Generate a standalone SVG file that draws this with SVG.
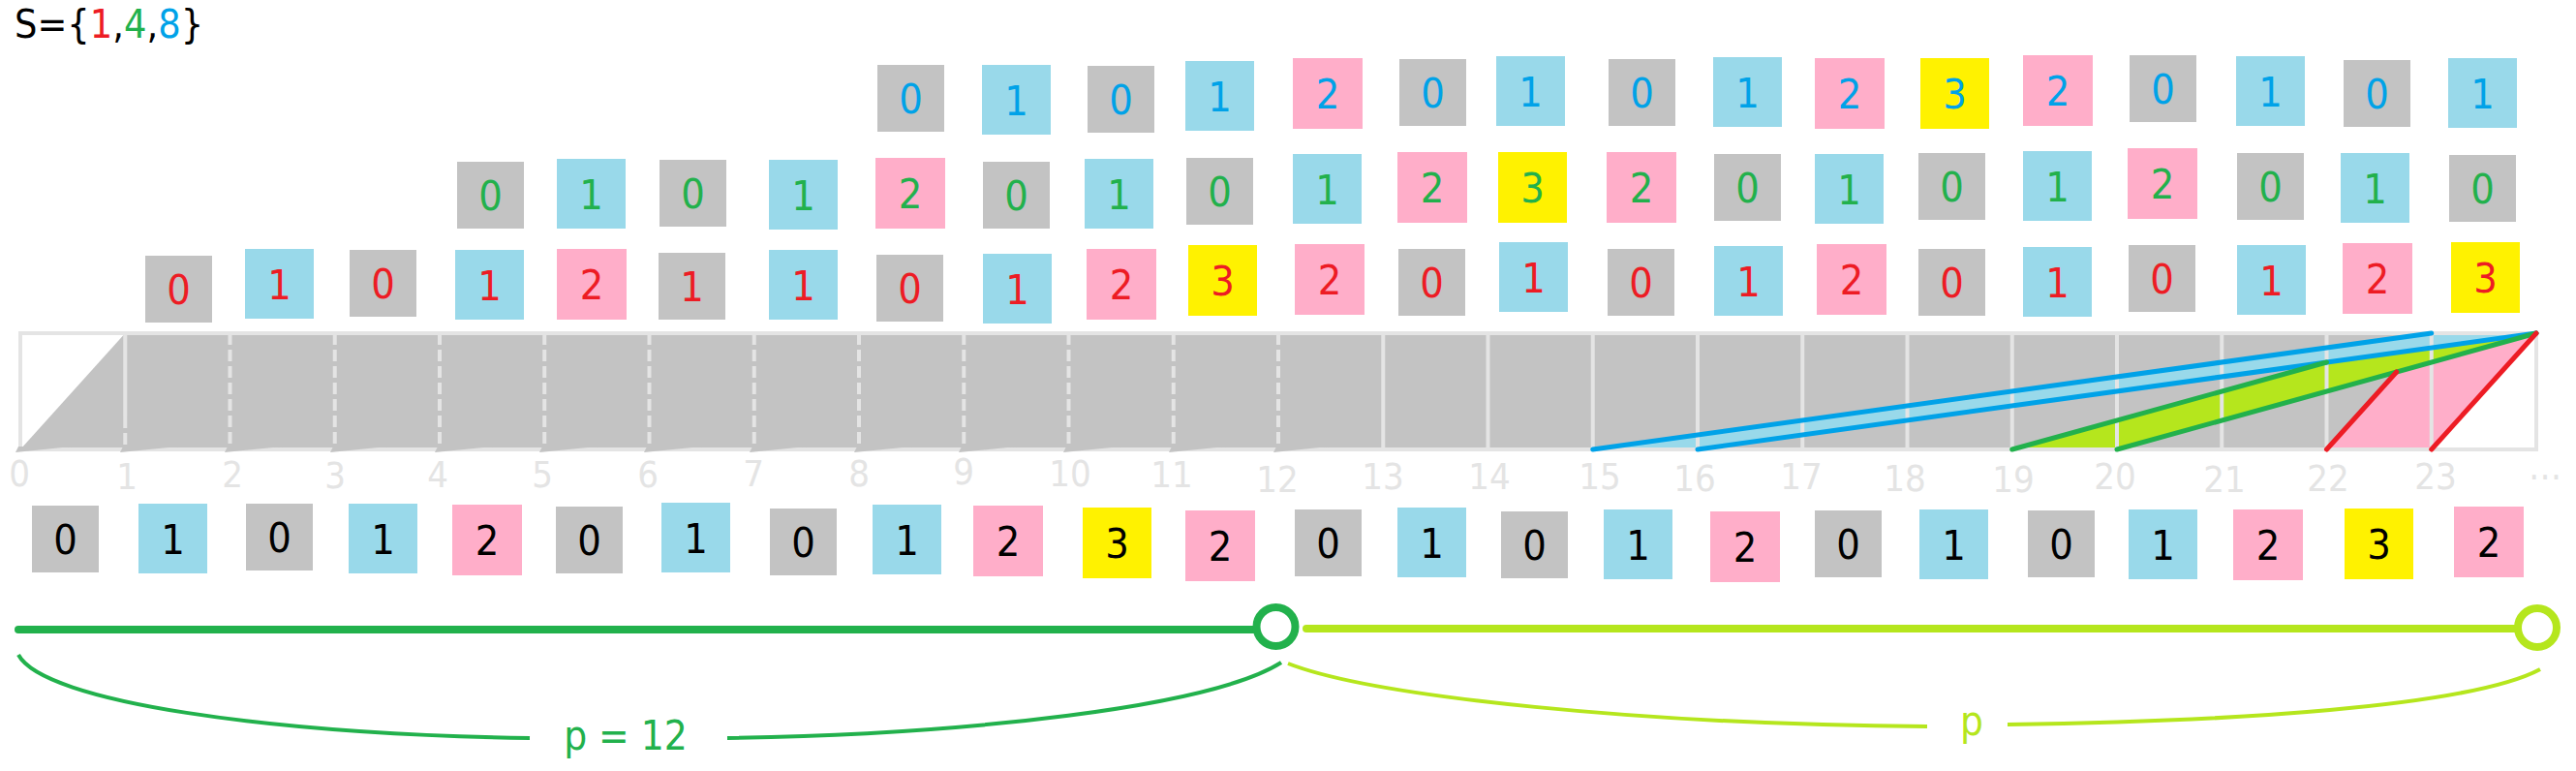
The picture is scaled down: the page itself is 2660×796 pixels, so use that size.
<svg xmlns="http://www.w3.org/2000/svg" width="2660" height="796" viewBox="0 0 2660 796">
<style>
text{font-family:"DejaVu Sans Condensed","DejaVu Sans","Liberation Sans",sans-serif}
.g{fill:#c3c3c3}.b{fill:#99d9ea}.p{fill:#ffaec9}.y{fill:#fff200}
.n text{font-size:43px;text-anchor:middle}
.tA text{fill:#00a2e8}.tB text{fill:#22b14c}.tC text{fill:#ed1c24}.tD text{fill:#000}
.grid{stroke:#e4e4e4;stroke-width:4;fill:none}
.dash{stroke-dasharray:12 5}
.lbl{font-size:38px;fill:#e4e4e4;text-anchor:middle}
.ln{stroke-width:5;stroke-linecap:round;fill:none}
</style>
<text x="15" y="39" font-size="41" fill="#000">S={<tspan fill="#ed1c24">1</tspan>,<tspan fill="#22b14c">4</tspan>,<tspan fill="#00a2e8">8</tspan>}</text>

<g id="ramp-fills">
<polygon class="g" points="21,464 129.25,344 2619,344 2510.75,464"/>
<polygon class="p" points="2402.5,464 2510.75,464 2619,344 2510.75,344"/>
<polygon fill="#b5e61d" points="2077.75,464 2186,464 2619,344 2510.75,344"/>
<polygon class="b" points="1644.75,464 1753,464 2619,344 2510.75,344"/>
</g>

<g id="grid">
<rect class="grid" x="21" y="344" width="2598" height="120"/>
<path class="grid" d="M129.25,344V430"/>
<path class="grid dash" d="M129.25,430V464"/>
<path class="grid dash" d="M237.5,344V464M345.75,344V464M454,344V464M562.25,344V464M670.5,344V464M778.75,344V464M887,344V464M995.25,344V464M1103.5,344V464M1211.75,344V464M1320,344V464"/>
<path class="grid" d="M1428.25,344V464M1536.5,344V464M1644.75,344V464M1753,344V464M1861.25,344V464M1969.5,344V464M2077.75,344V464M2186,344V464M2294.25,344V464M2402.5,344V464M2510.75,344V464"/>
<g class="g">
<polygon points="16,467 19,461 74,461"/>
<polygon points="124,467 127,461 184,461"/>
<polygon points="232,467 235,461 292,461"/>
<polygon points="341,467 344,461 400,461"/>
<polygon points="449,467 452,461 509,461"/>
<polygon points="557,467 560,461 617,461"/>
<polygon points="665,467 668,461 725,461"/>
<polygon points="774,467 777,461 833,461"/>
<polygon points="882,467 885,461 942,461"/>
<polygon points="990,467 993,461 1050,461"/>
<polygon points="1098,467 1101,461 1158,461"/>
<polygon points="1207,467 1210,461 1266,461"/>
<polygon points="1315,467 1318,461 1372,461"/>
</g>
<g class="lbl">
<text x="20" y="502">0</text><text x="131" y="505">1</text><text x="240" y="503">2</text><text x="346" y="504">3</text><text x="452" y="503">4</text><text x="560" y="503">5</text><text x="669" y="503">6</text><text x="778" y="502">7</text><text x="887" y="502">8</text><text x="995" y="500">9</text><text x="1105" y="502">10</text><text x="1210" y="503">11</text><text x="1319" y="508">12</text><text x="1428" y="505">13</text><text x="1538" y="505">14</text><text x="1652" y="505">15</text><text x="1750" y="507">16</text><text x="1860" y="505">17</text><text x="1967" y="507">18</text><text x="2079" y="508">19</text><text x="2184" y="505">20</text><text x="2297" y="508">21</text><text x="2404" y="507">22</text><text x="2515" y="505">23</text><text x="2628" y="495">…</text>
</g>
</g>

<g id="connectors">
<path class="ln" stroke="#00a2e8" d="M1644.75,464L2510.75,344M1753,464L2619,344"/>
<path class="ln" stroke="#22b14c" d="M2077.75,464L2402.5,374M2186,464L2619,344"/>
<path class="ln" stroke="#ed1c24" d="M2402.5,464L2474.7,384M2510.75,464L2619,344"/>
</g>

<g id="rowA" class="n tA">
<g id="a8"><rect class="g" x="906" y="67" width="69" height="69"/><text x="940.5" y="117">0</text></g>
<g id="a9"><rect class="b" x="1014" y="67" width="71" height="72"/><text x="1049.5" y="118.5">1</text></g>
<g id="a10"><rect class="g" x="1123" y="68" width="69" height="69"/><text x="1157.5" y="118">0</text></g>
<g id="a11"><rect class="b" x="1224" y="63" width="71" height="72"/><text x="1259.5" y="114.5">1</text></g>
<g id="a12"><rect class="p" x="1335" y="60" width="72" height="73"/><text x="1371" y="112">2</text></g>
<g id="a13"><rect class="g" x="1445" y="61" width="69" height="69"/><text x="1479.5" y="111">0</text></g>
<g id="a14"><rect class="b" x="1545" y="58" width="71" height="72"/><text x="1580.5" y="109.5">1</text></g>
<g id="a15"><rect class="g" x="1661" y="61" width="69" height="69"/><text x="1695.5" y="111">0</text></g>
<g id="a16"><rect class="b" x="1769" y="59" width="71" height="72"/><text x="1804.5" y="110.5">1</text></g>
<g id="a17"><rect class="p" x="1874" y="60" width="72" height="73"/><text x="1910" y="112">2</text></g>
<g id="a18"><rect class="y" x="1983" y="60" width="71" height="73"/><text x="2018.5" y="112">3</text></g>
<g id="a19"><rect class="p" x="2089" y="57" width="72" height="73"/><text x="2125" y="109">2</text></g>
<g id="a20"><rect class="g" x="2199" y="57" width="69" height="69"/><text x="2233.5" y="107">0</text></g>
<g id="a21"><rect class="b" x="2309" y="58" width="71" height="72"/><text x="2344.5" y="109.5">1</text></g>
<g id="a22"><rect class="g" x="2420" y="62" width="69" height="69"/><text x="2454.5" y="112">0</text></g>
<g id="a23"><rect class="b" x="2528" y="60" width="71" height="72"/><text x="2563.5" y="111.5">1</text></g>
</g>

<g id="rowB" class="n tB">
<g id="b4"><rect class="g" x="472" y="167" width="69" height="69"/><text x="506.5" y="217">0</text></g>
<g id="b5"><rect class="b" x="575" y="164" width="71" height="72"/><text x="610.5" y="215.5">1</text></g>
<g id="b6"><rect class="g" x="681" y="165" width="69" height="69"/><text x="715.5" y="215">0</text></g>
<g id="b7"><rect class="b" x="794" y="165" width="71" height="72"/><text x="829.5" y="216.5">1</text></g>
<g id="b8"><rect class="p" x="904" y="163" width="72" height="73"/><text x="940" y="215">2</text></g>
<g id="b9"><rect class="g" x="1015" y="167" width="69" height="69"/><text x="1049.5" y="217">0</text></g>
<g id="b10"><rect class="b" x="1120" y="164" width="71" height="72"/><text x="1155.5" y="215.5">1</text></g>
<g id="b11"><rect class="g" x="1225" y="163" width="69" height="69"/><text x="1259.5" y="213">0</text></g>
<g id="b12"><rect class="b" x="1335" y="159" width="71" height="72"/><text x="1370.5" y="210.5">1</text></g>
<g id="b13"><rect class="p" x="1443" y="157" width="72" height="73"/><text x="1479" y="209">2</text></g>
<g id="b14"><rect class="y" x="1547" y="157" width="71" height="73"/><text x="1582.5" y="209">3</text></g>
<g id="b15"><rect class="p" x="1659" y="157" width="72" height="73"/><text x="1695" y="209">2</text></g>
<g id="b16"><rect class="g" x="1770" y="159" width="69" height="69"/><text x="1804.5" y="209">0</text></g>
<g id="b17"><rect class="b" x="1874" y="159" width="71" height="72"/><text x="1909.5" y="210.5">1</text></g>
<g id="b18"><rect class="g" x="1981" y="158" width="69" height="69"/><text x="2015.5" y="208">0</text></g>
<g id="b19"><rect class="b" x="2089" y="156" width="71" height="72"/><text x="2124.5" y="207.5">1</text></g>
<g id="b20"><rect class="p" x="2197" y="153" width="72" height="73"/><text x="2233" y="205">2</text></g>
<g id="b21"><rect class="g" x="2310" y="158" width="69" height="69"/><text x="2344.5" y="208">0</text></g>
<g id="b22"><rect class="b" x="2417" y="158" width="71" height="72"/><text x="2452.5" y="209.5">1</text></g>
<g id="b23"><rect class="g" x="2529" y="160" width="69" height="69"/><text x="2563.5" y="210">0</text></g>
</g>

<g id="rowC" class="n tC">
<g id="c1"><rect class="g" x="150" y="264" width="69" height="69"/><text x="184.5" y="314">0</text></g>
<g id="c2"><rect class="b" x="253" y="257" width="71" height="72"/><text x="288.5" y="308.5">1</text></g>
<g id="c3"><rect class="g" x="361" y="258" width="69" height="69"/><text x="395.5" y="308">0</text></g>
<g id="c4"><rect class="b" x="470" y="258" width="71" height="72"/><text x="505.5" y="309.5">1</text></g>
<g id="c5"><rect class="p" x="575" y="257" width="72" height="73"/><text x="611" y="309">2</text></g>
<g id="c6"><rect class="g" x="680" y="261" width="69" height="69"/><text x="714.5" y="311">1</text></g>
<g id="c7"><rect class="b" x="794" y="258" width="71" height="72"/><text x="829.5" y="309.5">1</text></g>
<g id="c8"><rect class="g" x="905" y="263" width="69" height="69"/><text x="939.5" y="313">0</text></g>
<g id="c9"><rect class="b" x="1015" y="262" width="71" height="72"/><text x="1050.5" y="313.5">1</text></g>
<g id="c10"><rect class="p" x="1122" y="257" width="72" height="73"/><text x="1158" y="309">2</text></g>
<g id="c11"><rect class="y" x="1227" y="253" width="71" height="73"/><text x="1262.5" y="305">3</text></g>
<g id="c12"><rect class="p" x="1337" y="252" width="72" height="73"/><text x="1373" y="304">2</text></g>
<g id="c13"><rect class="g" x="1444" y="257" width="69" height="69"/><text x="1478.5" y="307">0</text></g>
<g id="c14"><rect class="b" x="1548" y="250" width="71" height="72"/><text x="1583.5" y="301.5">1</text></g>
<g id="c15"><rect class="g" x="1660" y="257" width="69" height="69"/><text x="1694.5" y="307">0</text></g>
<g id="c16"><rect class="b" x="1770" y="254" width="71" height="72"/><text x="1805.5" y="305.5">1</text></g>
<g id="c17"><rect class="p" x="1876" y="252" width="72" height="73"/><text x="1912" y="304">2</text></g>
<g id="c18"><rect class="g" x="1981" y="257" width="69" height="69"/><text x="2015.5" y="307">0</text></g>
<g id="c19"><rect class="b" x="2089" y="255" width="71" height="72"/><text x="2124.5" y="306.5">1</text></g>
<g id="c20"><rect class="g" x="2198" y="253" width="69" height="69"/><text x="2232.5" y="303">0</text></g>
<g id="c21"><rect class="b" x="2310" y="253" width="71" height="72"/><text x="2345.5" y="304.5">1</text></g>
<g id="c22"><rect class="p" x="2419" y="251" width="72" height="73"/><text x="2455" y="303">2</text></g>
<g id="c23"><rect class="y" x="2531" y="250" width="71" height="73"/><text x="2566.5" y="302">3</text></g>
</g>

<g id="rowD" class="n tD">
<g id="d0"><rect class="g" x="33" y="522" width="69" height="69"/><text x="67.5" y="572">0</text></g>
<g id="d1"><rect class="b" x="143" y="520" width="71" height="72"/><text x="178.5" y="571.5">1</text></g>
<g id="d2"><rect class="g" x="254" y="520" width="69" height="69"/><text x="288.5" y="570">0</text></g>
<g id="d3"><rect class="b" x="360" y="520" width="71" height="72"/><text x="395.5" y="571.5">1</text></g>
<g id="d4"><rect class="p" x="467" y="521" width="72" height="73"/><text x="503" y="573">2</text></g>
<g id="d5"><rect class="g" x="574" y="523" width="69" height="69"/><text x="608.5" y="573">0</text></g>
<g id="d6"><rect class="b" x="683" y="519" width="71" height="72"/><text x="718.5" y="570.5">1</text></g>
<g id="d7"><rect class="g" x="795" y="525" width="69" height="69"/><text x="829.5" y="575">0</text></g>
<g id="d8"><rect class="b" x="901" y="521" width="71" height="72"/><text x="936.5" y="572.5">1</text></g>
<g id="d9"><rect class="p" x="1005" y="522" width="72" height="73"/><text x="1041" y="574">2</text></g>
<g id="d10"><rect class="y" x="1118" y="524" width="71" height="73"/><text x="1153.5" y="576">3</text></g>
<g id="d11"><rect class="p" x="1224" y="527" width="72" height="73"/><text x="1260" y="579">2</text></g>
<g id="d12"><rect class="g" x="1337" y="526" width="69" height="69"/><text x="1371.5" y="576">0</text></g>
<g id="d13"><rect class="b" x="1443" y="524" width="71" height="72"/><text x="1478.5" y="575.5">1</text></g>
<g id="d14"><rect class="g" x="1550" y="528" width="69" height="69"/><text x="1584.5" y="578">0</text></g>
<g id="d15"><rect class="b" x="1656" y="526" width="71" height="72"/><text x="1691.5" y="577.5">1</text></g>
<g id="d16"><rect class="p" x="1766" y="528" width="72" height="73"/><text x="1802" y="580">2</text></g>
<g id="d17"><rect class="g" x="1874" y="527" width="69" height="69"/><text x="1908.5" y="577">0</text></g>
<g id="d18"><rect class="b" x="1982" y="526" width="71" height="72"/><text x="2017.5" y="577.5">1</text></g>
<g id="d19"><rect class="g" x="2094" y="527" width="69" height="69"/><text x="2128.5" y="577">0</text></g>
<g id="d20"><rect class="b" x="2198" y="526" width="71" height="72"/><text x="2233.5" y="577.5">1</text></g>
<g id="d21"><rect class="p" x="2306" y="526" width="72" height="73"/><text x="2342" y="578">2</text></g>
<g id="d22"><rect class="y" x="2421" y="525" width="71" height="73"/><text x="2456.5" y="577">3</text></g>
<g id="d23"><rect class="p" x="2534" y="523" width="72" height="73"/><text x="2570" y="575">2</text></g>
</g>

<g id="period-p12">
<path d="M19,650H1297" stroke="#22b14c" stroke-width="8" stroke-linecap="round" fill="none"/>
<circle cx="1317.5" cy="647" r="20" stroke="#22b14c" stroke-width="8" fill="none"/>
<path d="M19,676C45,725 280,758 547,762M751,762C1000,758 1250,730 1323,684" stroke="#22b14c" stroke-width="4" fill="none"/>
<text x="646" y="774" font-size="42" fill="#22b14c" text-anchor="middle">p = 12</text>
</g>
<g id="period-p">
<path d="M1349,649H2600" stroke="#b5e61d" stroke-width="8" stroke-linecap="round" fill="none"/>
<circle cx="2620" cy="648" r="20" stroke="#b5e61d" stroke-width="8" fill="none"/>
<path d="M1330,685C1420,720 1700,748 1990,750M2073,748C2300,745 2550,730 2623,691" stroke="#b5e61d" stroke-width="4" fill="none"/>
<text x="2036" y="759" font-size="42" fill="#b5e61d" text-anchor="middle">p</text>
</g>
</svg>
